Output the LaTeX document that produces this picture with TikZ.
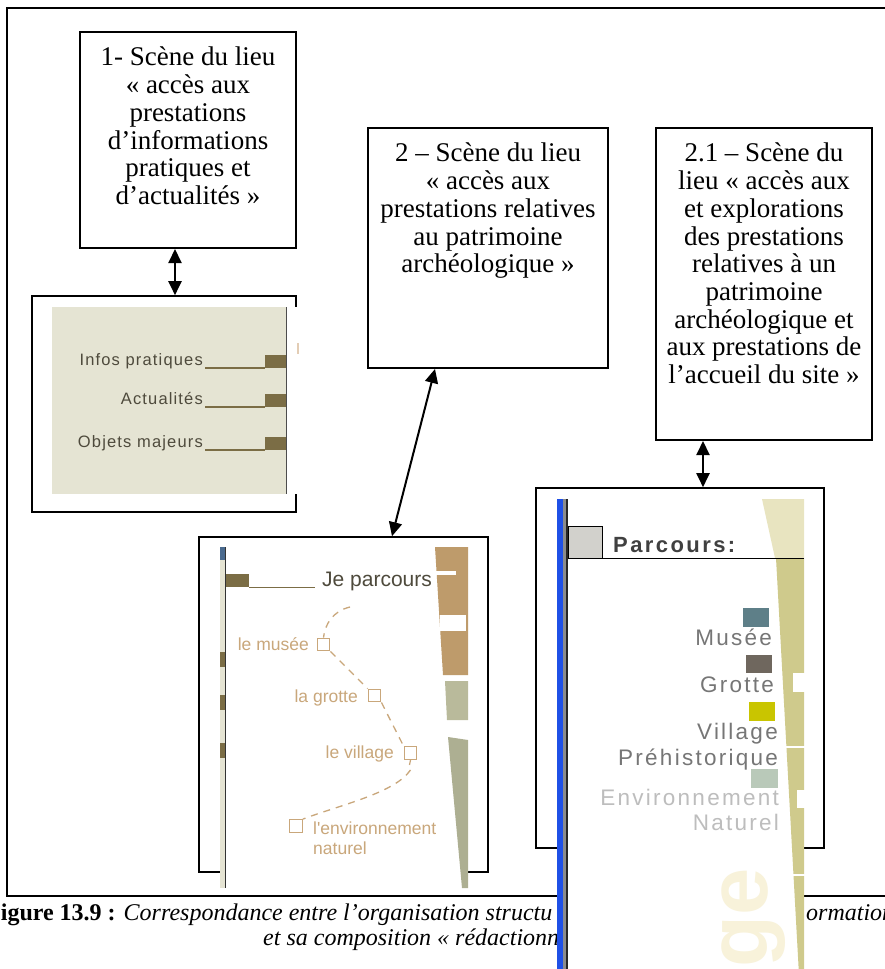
\documentclass[tikz,border=0pt]{standalone}
\usepackage{fontspec}
\setmainfont{Liberation Serif}
\newfontfamily\webfont{Liberation Sans}
\newfontfamily\webwide[LetterSpace=7]{Liberation Sans}
\newfontfamily\webwider[LetterSpace=10]{Liberation Sans}
\newfontfamily\webhead[LetterSpace=11]{Liberation Sans}
\usetikzlibrary{arrows.meta,calc}

\definecolor{beige}{HTML}{E5E4D3}
\definecolor{khaki}{HTML}{7B6D45}
\definecolor{menugrey}{HTML}{4E4A3C}
\definecolor{trailtan}{HTML}{C9A77B}
\definecolor{tanblock}{HTML}{BE9B6B}
\definecolor{sage}{HTML}{B9BA9B}
\definecolor{sagedark}{HTML}{ADAF92}
\definecolor{navy}{HTML}{4A6A8E}
\definecolor{webblue}{HTML}{1F50E6}
\definecolor{olive}{HTML}{CFCA8C}
\definecolor{paleolive}{HTML}{E8E4C0}
\definecolor{paleletter}{HTML}{F8F2DA}
\definecolor{museum}{HTML}{5E7F88}
\definecolor{cave}{HTML}{6F675E}
\definecolor{village}{HTML}{C9C500}
\definecolor{nature}{HTML}{B9C9B9}
\definecolor{legendgrey}{HTML}{767676}
\definecolor{legendlight}{HTML}{BDBDBD}
\definecolor{headgrey}{HTML}{D2D1CC}
\definecolor{blush}{HTML}{E3CDB5}

\newcommand\scenefont{\fontsize{27}{27.7}\selectfont}

\tikzset{
  scene/.style     = {draw, line width=2pt, inner sep=0pt},
  scenetext/.style = {font=\scenefont, align=center, inner sep=0pt, anchor=north},
  shotframe/.style = {draw, line width=1.6pt, inner sep=0pt},
  dbl/.style       = {{Triangle[width=13pt,length=14pt]}-{Triangle[width=13pt,length=14pt]}, line width=2pt},
  menu/.style      = {font=\webwide\fontsize{16.5}{18}\selectfont, text=menugrey, anchor=base east, inner sep=0pt},
  trail/.style     = {draw=trailtan, line width=1.3pt, dash pattern=on 7pt off 6pt},
  stopsq/.style    = {draw=trailtan, fill=white, line width=1.4pt, minimum size=12.5pt, inner sep=0pt},
  trailtext/.style = {font=\webfont\fontsize{17.5}{19}\selectfont, text=trailtan, inner sep=0pt},
  legendtext/.style= {font=\webwider\fontsize{22.5}{24}\selectfont, text=legendgrey, anchor=base east, inner sep=0pt},
  captext/.style   = {font=\fontsize{24}{27.5}\selectfont, inner sep=0pt, anchor=base west}
}

\begin{document}
\begin{tikzpicture}[x=1pt,y=-1pt]
\useasboundingbox (0,0) rectangle (884,969);

% outer frame, open on the right
\draw[line width=2pt] (894,8) -- (7,8) -- (7,896) -- (894,896);

% scene boxes
\node[scene, minimum width=216.5pt, minimum height=216pt] (box1) at (188,140) {};
\node[scene, minimum width=240pt, minimum height=240pt] (box2) at (488,248) {};
\node[scene, minimum width=216pt, minimum height=312pt] (box3) at (764,284) {};
\node[scenetext] (t1) at ([yshift=-16pt]box1.north)
  {1- Scène du lieu\\« accès aux\\prestations\\d’informations\\pratiques et\\d’actualités »};
\node[scenetext] (t2) at ([yshift=-16pt]box2.north)
  {2 – Scène du lieu\\« accès aux\\prestations relatives\\au patrimoine\\archéologique »};
\node[scenetext] (t3) at ([yshift=-16pt]box3.north)
  {2.1 – Scène du\\lieu « accès aux\\et explorations\\des prestations\\relatives à un\\patrimoine\\archéologique et\\aux prestations de\\l’accueil du site »};

% screenshot frames
\node[shotframe, minimum width=264pt, minimum height=216pt] (shot1) at (164,404) {};
\node[shotframe, minimum width=289pt, minimum height=335pt] (shot2) at (343.5,704.5) {};
\node[shotframe, minimum width=288pt, minimum height=360pt] (shot3) at (680,668) {};

% links
\draw[dbl] ([xshift=-13pt]box1.south) -- ([xshift=-13pt]box1.south |- shot1.north);
\draw[dbl] ([xshift=-53pt]box2.south) -- ([xshift=48.5pt]shot2.north);
\draw[dbl] ([xshift=-61pt]box3.south) -- ([xshift=-61pt]box3.south |- shot3.north);

% caption
\node[captext] (cap1) at (-14,920) {\textbf{Figure 13.9 :} \textit{Correspondance entre l’organisation structu}};
\node[captext] (cap1b) at (806,920) {\textit{ormation}};
\node[captext] (cap2) at (263,945) {\textit{et sa composition « rédactionn}};

% screenshot 1 : menu
\fill[white] (52,307) rectangle (300,494);
\fill[beige] (52,307) rectangle (286,494);
\draw[line width=1pt, black!70] (286,307) -- (286,494);
\fill[blush] (297,343) rectangle (299,354);
\foreach \lab/\y in {Infos pratiques/368, Actualités/407, Objets majeurs/450} {
  \node[menu] (m-\y) at (203,\y-3) {\lab};
  \draw[khaki, line width=1.2pt] (205,\y) -- (265,\y);
  \fill[khaki] (265,\y-13) rectangle (286,\y);
}

% screenshot 2 : Je parcours
\fill[white] (220,547) rectangle (468,888);
\fill[beige] (220,547) rectangle (225,888);
\fill[navy] (220,547) rectangle (225,560);
\foreach \y in {652,695,743}
  \fill[khaki] (220,\y) rectangle (225,\y+15);
\draw[line width=1.2pt, black!80] (225.5,547) -- (225.5,888);
\fill[khaki] (226,574) rectangle (249,587);
\draw[khaki, line width=1pt] (249,587) -- (315,587);
\node[font=\webfont\fontsize{21}{23}\selectfont, text=menugrey, anchor=base west, inner sep=0pt] (jp) at (322,586) {Je parcours};
\fill[tanblock] (435,547) -- (468,547) -- (468,675) -- (443,675) -- cycle;
\fill[white] (436,571) rectangle (456,575);
\fill[white] (440,615) rectangle (466,631);
\fill[sage] (445,681) -- (468,681) -- (468,720) -- (447,720) -- cycle;
\fill[sagedark] (448,737) -- (468,740) -- (468,888) -- (462,888) -- cycle;

\node[stopsq] (s1) at (323.5,644.5) {};
\node[stopsq] (s2) at (374.5,695.5) {};
\node[stopsq] (s3) at (410.5,753) {};
\node[stopsq] (s4) at (296,826) {};
\draw[trail] (350,607) .. controls (333,611) and (325,624) .. (s1.north);
\draw[trail] (s1.south east) -- (s2.north west);
\draw[trail] (s2.south east) -- (s3.north west);
\draw[trailtan, line width=1.2pt] (s3.south) -- ++(-1,5);
\draw[trail] ([yshift=-10pt]s3.south) .. controls (395,793) and (340,805) .. (s4.north east);
\node[trailtext, anchor=base east] (l1) at (309,650) {le musée};
\node[trailtext, anchor=base east] (l2) at (358,702) {la grotte};
\node[trailtext, anchor=base east] (l3) at (394,758) {le village};
\node[trailtext, anchor=base west] (l4) at (313,834) {l'environnement};
\node[trailtext, anchor=base west] (l5) at (313,854) {naturel};

% screenshot 3 : Parcours
\fill[white] (557,499) rectangle (804,975);
\node[font=\webfont\bfseries\fontsize{85}{90}\selectfont, text=paleletter, rotate=90, anchor=base east, inner sep=0pt] (ge) at (767,868) {ge};
\fill[paleolive] (762,499) -- (804,499) -- (804,558) -- (775,558) -- cycle;
\fill[olive] (776,558) -- (804,558) -- (804,975) -- (799,975) -- cycle;
\fill[white] (793,673) rectangle (805,692);
\fill[white] (780,746) rectangle (805,748);
\fill[white] (797,790) rectangle (805,808);
\fill[white] (790,874) rectangle (805,876);
\fill[webblue] (557,499) rectangle (563,975);
\fill[black!45] (563,499) rectangle (566,975);
\fill[black!85] (566,499) rectangle (568,975);
\draw[line width=1pt, fill=headgrey] (568,526) rectangle (602,558);
\draw[line width=1pt] (602,558) -- (804,558);
\node[font=\webhead\bfseries\fontsize{22}{24}\selectfont, text=black!75, anchor=base west, inner sep=0pt] (pc) at (613,552) {Parcours:};

\fill[museum]  (743,608) rectangle (769,627);
\fill[cave]    (746,655) rectangle (772,673);
\fill[village] (749,702) rectangle (775,721);
\fill[nature]  (751,769) rectangle (778,788);
\node[legendtext] (g1) at (772,645) {Musée};
\node[legendtext] (g2) at (774,692) {Grotte};
\node[legendtext] (g3) at (778,739) {Village};
\node[legendtext] (g4) at (778,765) {Préhistorique};
\node[legendtext, text=legendlight] (g5) at (779,805) {Environnement};
\node[legendtext, text=legendlight] (g6) at (779,830) {Naturel};
\end{tikzpicture}
\end{document}
